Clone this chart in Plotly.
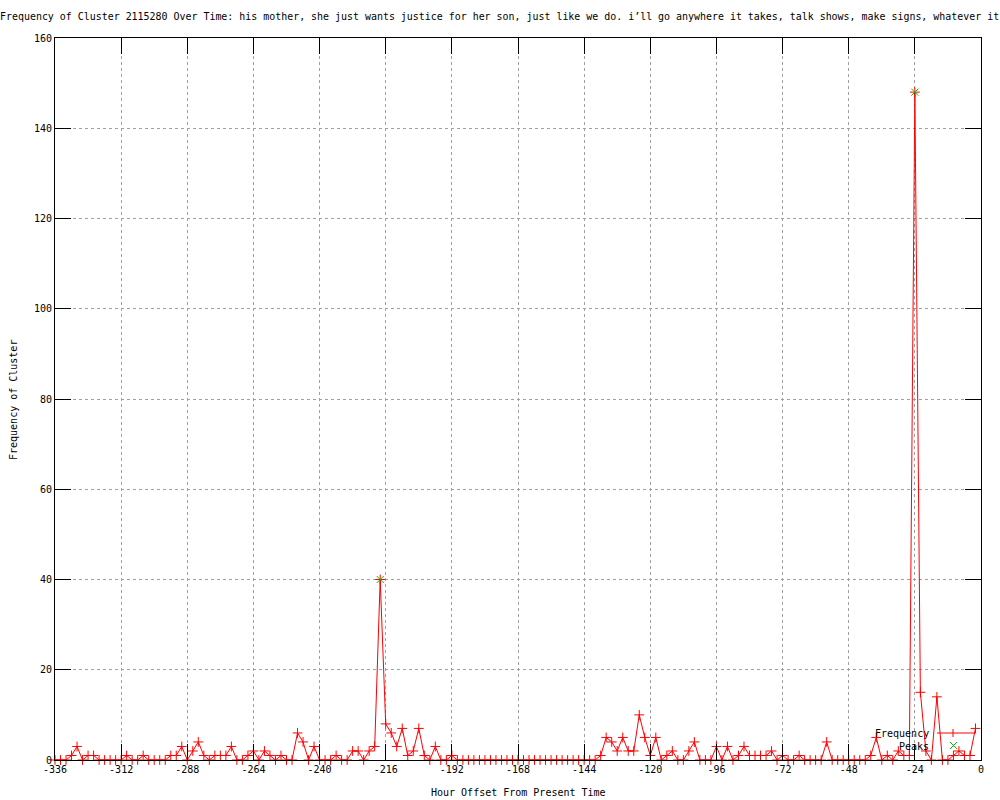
import plotly.graph_objects as go

# ---- data ----
hours = list(range(-336, 0, 2))
frequency = [
    0, 0, 0, 1, 3, 0, 1, 1, 0, 0, 0, 0,        # -336 .. -314
    0, 1, 0, 0, 1, 0, 0, 0, 0, 1, 1, 3,        # -312 .. -290
    0, 2, 4, 1, 0, 1, 1, 1, 3, 0, 0, 1,        # -288 .. -266
    2, 0, 2, 1, 0, 1, 0, 0, 6, 4, 0, 3,        # -264 .. -242
    0, 0, 0, 1, 0, 0, 2, 2, 0, 2, 3, 40,       # -240 .. -218
    8, 6, 3, 7, 1, 2, 7, 1, 0, 3, 0, 0,        # -216 .. -194
    1, 0, 0, 0, 0, 0, 0, 0, 0, 0, 0, 0,        # -192 .. -170
    0, 0, 0, 0, 0, 0, 0, 0, 0, 0, 0, 0,        # -168 .. -146
    0, 0, 0, 1, 5, 4, 2, 5, 2, 2, 10, 5,       # -144 .. -122
    1, 5, 0, 1, 2, 0, 0, 2, 4, 0, 0, 0,        # -120 .. -98
    3, 0, 3, 0, 1, 3, 1, 1, 1, 1, 2, 0,        # -96 .. -74
    1, 0, 0, 1, 0, 0, 0, 0, 4, 0, 0, 0,        # -72 .. -50
    0, 0, 0, 0, 1, 5, 0, 1, 0, 2, 1, 1,        # -48 .. -26
    148, 15, 2, 0, 14, 0, 0, 1, 2, 1, 1, 7,    # -24 .. -2
]
peak_hours = [-218, -24]
peak_values = [40, 148]
x_ticks = list(range(-336, 1, 24))
y_ticks = list(range(0, 161, 20))

title_text = ("Frequency of Cluster 2115280 Over Time: his mother, she just wants justice "
              "for her son, just like we do. i\u2019ll go anywhere it takes, talk shows, "
              "make signs, whatever it")
x_title = "Hour Offset From Present Time"
y_title = "Frequency of Cluster"

# ---- layout geometry ----
W, H = 1000, 800
L, R, T, B = 55, 19, 38, 40
pw, ph = W - L - R, H - T - B


def px(x):
    return (x - L) / pw


def py(y):
    return 1 - (y - T) / ph


FONT = "DejaVu Sans Mono"
RED = "#ff0000"
GREEN = "#00c000"

fig = go.Figure()
fig.add_trace(go.Scatter(
    x=hours, y=frequency, mode="lines+markers", name="Frequency",
    line=dict(color=RED, width=1),
    marker=dict(symbol="cross-thin-open", size=7, color=RED, line=dict(color=RED, width=1)),
    cliponaxis=False, showlegend=False,
))
fig.add_trace(go.Scatter(
    x=peak_hours, y=peak_values, mode="markers", name="Peaks",
    marker=dict(symbol="x-thin-open", size=7, color=GREEN, line=dict(color=GREEN, width=1)),
    cliponaxis=False, showlegend=False,
))

axis_common = dict(
    showgrid=True, gridcolor="#a0a0a0", griddash="dot", gridwidth=1,
    ticks="inside", ticklen=16, tickcolor="black", tickwidth=1,
    showline=True, linecolor="black", linewidth=1, mirror="ticks",
    zeroline=False, tickfont=dict(family=FONT, size=10, color="black"),
)
fig.update_xaxes(range=[-336, 0], tickvals=x_ticks, ticktext=[str(v) for v in x_ticks], **axis_common)
fig.update_yaxes(range=[0, 160], tickvals=y_ticks, ticktext=[str(v) for v in y_ticks], **axis_common)

annotations = [
    dict(text=title_text, x=px(-2), y=py(17), xref="paper", yref="paper",
         xanchor="left", yanchor="middle", showarrow=False,
         font=dict(family=FONT, size=9.95, color="black")),
    dict(text=x_title, x=0.5, y=py(792), xref="paper", yref="paper",
         xanchor="center", yanchor="middle", showarrow=False,
         font=dict(family=FONT, size=10, color="black")),
    dict(text=y_title, x=px(13), y=py(400), xref="paper", yref="paper",
         xanchor="center", yanchor="middle", textangle=-90, showarrow=False,
         font=dict(family=FONT, size=10, color="black")),
    dict(text="Frequency", x=px(931), y=py(733), xref="paper", yref="paper",
         xanchor="right", yanchor="middle", showarrow=False,
         font=dict(family=FONT, size=10, color="black")),
    dict(text="Peaks", x=px(931), y=py(746), xref="paper", yref="paper",
         xanchor="right", yanchor="middle", showarrow=False,
         font=dict(family=FONT, size=10, color="black")),
]

shapes = [
    # Frequency legend sample
    dict(type="line", xref="paper", yref="paper", x0=px(937), x1=px(975), y0=py(733), y1=py(733),
         line=dict(color=RED, width=1)),
    dict(type="line", xref="paper", yref="paper", x0=px(953), x1=px(953), y0=py(729), y1=py(737),
         line=dict(color=RED, width=1)),
    # Peaks legend sample
    dict(type="line", xref="paper", yref="paper", x0=px(950), x1=px(957), y0=py(742), y1=py(749),
         line=dict(color=GREEN, width=1)),
    dict(type="line", xref="paper", yref="paper", x0=px(950), x1=px(957), y0=py(749), y1=py(742),
         line=dict(color=GREEN, width=1)),
]

fig.update_layout(
    width=W, height=H, autosize=False,
    margin=dict(l=L, r=R, t=T, b=B, pad=0),
    paper_bgcolor="white", plot_bgcolor="white",
    font=dict(family=FONT, size=10, color="black"),
    annotations=annotations, shapes=shapes, showlegend=False,
)

fig.write_html(
    "out.html",
    config={"displayModeBar": False},
    post_script="document.body.style.margin='0';document.body.style.overflow='hidden';",
)
